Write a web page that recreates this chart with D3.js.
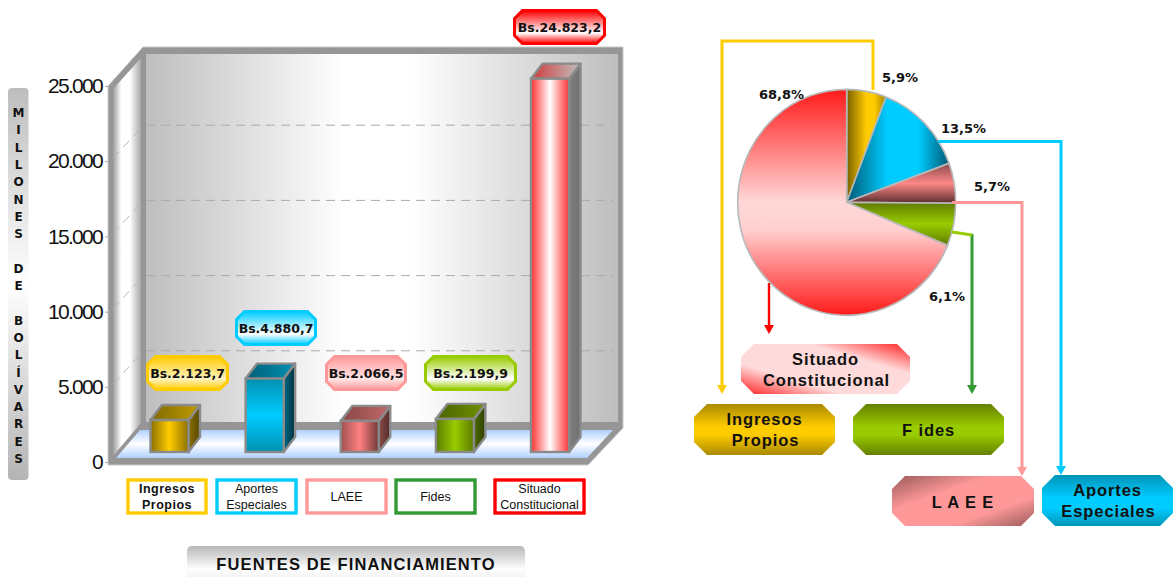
<!DOCTYPE html>
<html><head><meta charset="utf-8">
<script src="https://cdn.jsdelivr.net/npm/d3@7/dist/d3.min.js"></script>
<style>html,body{margin:0;padding:0;background:#fff;overflow:hidden}svg{display:block}</style>
</head><body><svg id="c" width="1173" height="577"></svg>
<script>
const categories = ["Ingresos Propios","Aportes Especiales","LAEE","Fides","Situado Constitucional"];
const values = [2123.7,4880.7,2066.5,2199.9,24823.2];
const yTicks = [0,5000,10000,15000,20000,25000];
const legendLines = [["Ingresos","Propios"],["Aportes","Especiales"],["LAEE"],["Fides"],["Situado","Constitucional"]];
const calloutLines = [["Ingresos","Propios"],["Aportes","Especiales"],["L A E E"],["F ides"],["Situado","Constitucional"]];
const yTitle = ["MILLONES","","DE","","BOLÍVARES"];
const xTitle = "FUENTES DE FINANCIAMIENTO";

const pillColors = ["#ffcc00","#00ccff","#ff9999","#99cc00","#ff0000"];
const legendColors = ["#ffcc00","#00ccff","#ff9999","#339933","#ff0000"];
const frontStops = [["#8a7000","#ffcc00","#8a7000"],["#0090b0","#00ccff","#0090b0"],["#a05050","#ff8080","#703838"],["#5a7a00","#99cc00","#5a7a00"],["#ff3030","#ffffff","#ff3030"]];
const topStops = [["#806800","#c09c00"],["#005f78","#0090b4"],["#8a4545","#c06a6a"],["#4a6400","#6f9000"],["#d03a3a","#c0c0c0"]];
const sideStops = [["#8a7000","#584700"],["#006a85","#00303f"],["#8c4a4a","#552c2c"],["#4e6a00","#2e4000"],["#808080","#707070"]];

const fmtES = d3.formatLocale({decimal:",",thousands:".",grouping:[3],currency:["Bs.",""]});
const tickFmt = fmtES.format(",.0f"), valFmt = fmtES.format(",.1f"), pctFmt = fmtES.format(".1f");

const FONT = "'DejaVu Sans',Verdana,sans-serif", NARROW = "'Liberation Sans',Arial,sans-serif";
const svg = d3.select("#c"), defs = svg.append("defs");
let gid = 0;
function grad(stops, dir, extra){
  const id = "g"+(gid++);
  const g = defs.append("linearGradient").attr("id",id);
  if(dir==="h") g.attr("x1",0).attr("y1",0).attr("x2",1).attr("y2",0);
  else if(dir==="v") g.attr("x1",0).attr("y1",0).attr("x2",0).attr("y2",1);
  else g.attr("x1",dir[0]).attr("y1",dir[1]).attr("x2",dir[2]).attr("y2",dir[3]);
  stops.forEach((s,i)=>{
    const o = Array.isArray(s)? s[0] : i/(stops.length-1);
    const c = Array.isArray(s)? s[1] : s;
    g.append("stop").attr("offset",o).attr("stop-color",c);
  });
  return `url(#${id})`;
}
function octagon(x,y,w,h,c){
  return `M${x+c},${y}H${x+w-c}L${x+w},${y+c}V${y+h-c}L${x+w-c},${y+h}H${x+c}L${x},${y+h-c}V${y+c}Z`;
}

/* scales */
const y = d3.scaleLinear().domain([0,25000]).range([462,86]);
const x = d3.scalePoint().domain(categories).range([169.5,550]);
const depth = {dx:35, dy:-36};
const barBase = 10, barW = 38, bdx = 11.5, bdy = -15;

/* 3D frame */
const fr = svg.append("g");
fr.append("path").attr("d","M108,86L143,47H623V428L588,465H108Z").attr("fill","#969696").attr("stroke","#c8c8c8").attr("stroke-width",1);
fr.append("path").attr("d","M146,54H618V422H146Z").attr("fill",grad(["#bebebe","#ffffff","#ffffff","#bebebe"].map((c,i)=>[[0,.42,.56,1][i],c]),"h"));
fr.append("path").attr("d","M113,89L141,58V423L113,456Z").attr("fill",grad([[0,"#9c9c9c"],[.3,"#ffffff"],[.6,"#ffffff"],[1,"#a8a8a8"]],"h"));
fr.append("path").attr("d","M140,430H613L587,458H116Z").attr("fill",grad([[0,"#b0d0ff"],[.5,"#ffffff"],[1,"#b0d0ff"]],"v"));

/* gridlines on the walls */
const gridTicks = yTicks.filter(t=>t>0 && t<25000);
fr.selectAll("line.back").data(gridTicks).join("line").attr("class","back")
  .attr("x1",146).attr("x2",613).attr("y1",d=>y(d)+depth.dy).attr("y2",d=>y(d)+depth.dy)
  .attr("stroke","#aaaaaa").attr("stroke-width",1).attr("stroke-dasharray","9 6");
fr.selectAll("line.side").data(gridTicks).join("line").attr("class","side")
  .attr("x1",113).attr("x2",141).attr("y1",d=>y(d)-3).attr("y2",d=>y(d)+depth.dy+3)
  .attr("stroke","#b4b4b4").attr("stroke-width",1).attr("stroke-dasharray","9 6");

/* axis */
const ax = svg.append("g").attr("transform","translate(108,0)")
  .call(d3.axisLeft(y).tickValues(yTicks).tickFormat(tickFmt).tickSize(3).tickPadding(3));
ax.select(".domain").remove();
ax.selectAll("line").attr("stroke","#aaaaaa");
ax.selectAll("text").attr("font-family",NARROW).attr("font-size",21).attr("letter-spacing",-1.7).attr("fill","#111").attr("dy","0.32em");

/* 3D bars */
const bars = svg.append("g").selectAll("g").data(values.map((v,i)=>({v,i,c:categories[i]}))).join("g")
  .attr("transform",d=>`translate(${x(d.c)-barW/2},0)`);
const tY = d=>y(d.v)-barBase, bY = y(0)-barBase;
const barStroke = {stroke:"#8a8a8a",w:2.4};
bars.append("path").attr("d",d=>`M${barW},${tY(d)}l${bdx},${bdy}V${bY+bdy}L${barW},${bY}Z`)
  .attr("fill",d=>grad(sideStops[d.i],"h")).attr("stroke",barStroke.stroke).attr("stroke-width",barStroke.w).attr("stroke-linejoin","round");
bars.append("path").attr("d",d=>`M0,${tY(d)}l${bdx},${bdy}h${barW}l${-bdx},${-bdy}Z`)
  .attr("fill",d=>grad(topStops[d.i],"h")).attr("stroke",barStroke.stroke).attr("stroke-width",barStroke.w).attr("stroke-linejoin","round");
bars.append("rect").attr("x",0).attr("width",barW).attr("y",tY).attr("height",d=>bY-tY(d))
  .attr("fill",d=>grad(frontStops[d.i],d.i===1?"v":"h")).attr("stroke",barStroke.stroke).attr("stroke-width",barStroke.w);

/* value pills */
const pillPos = [[146,355,83],[235,310,82],[325,355,82],[424,355,93],[513,9,93]];
const pills = svg.append("g").selectAll("g").data(values).join("g");
pills.append("path").attr("d",(d,i)=>octagon(pillPos[i][0]+1.5,pillPos[i][1]+1.5,pillPos[i][2]-3,33,8))
  .attr("fill",(d,i)=>grad([[0,pillColors[i]],[.68,i===0?"#fff2c0":(i===2?"#ffe6e6":"#ffffff")],[1,pillColors[i]]],"v"))
  .attr("stroke",(d,i)=>pillColors[i]).attr("stroke-width",3);
pills.append("text").attr("x",(d,i)=>pillPos[i][0]+pillPos[i][2]/2).attr("y",(d,i)=>pillPos[i][1]+23)
  .attr("text-anchor","middle").attr("font-family",FONT).attr("font-weight","bold").attr("font-size",12.5)
  .attr("fill","#111").text(d=>"Bs."+valFmt(d));

/* legend boxes under bars */
const legPos = [[126,82],[215,83],[305,83],[394,83],[493,93]];
const leg = svg.append("g").selectAll("g").data(legendLines).join("g");
leg.append("rect").attr("x",(d,i)=>legPos[i][0]+2).attr("y",480).attr("width",(d,i)=>legPos[i][1]-4).attr("height",33)
  .attr("fill","#fff").attr("stroke",(d,i)=>legendColors[i]).attr("stroke-width",3.4);
leg.each(function(lines,i){
  const t = d3.select(this).append("text").attr("text-anchor","middle").attr("font-family",NARROW)
    .attr("font-size",i===0?12.5:12.5).attr("font-weight",i===0?"bold":"normal").attr("fill","#111")
    .attr("letter-spacing",i===0?0.5:0);
  lines.forEach((s,k)=>t.append("tspan").attr("x",legPos[i][0]+legPos[i][1]/2-(i===4?-0:0))
     .attr("y",lines.length===2?493+k*16:501).text(s));
});

/* axis title strip */
svg.append("rect").attr("x",8).attr("y",88).attr("width",20.5).attr("height",392).attr("rx",4)
  .attr("fill",grad([[0,"#bdbdbd"],[.5,"#ffffff"],[1,"#b4b4b4"]],"v"));
const yt = svg.append("text").attr("font-family",FONT).attr("font-weight","bold").attr("font-size",12).attr("fill","#111").attr("text-anchor","middle");
yTitle.join("\u0000").split("").reduce((n,ch)=>{
  if(ch==="\u0000") return n+ (0.5);
  yt.append("tspan").attr("x",18.5).attr("y",117+Math.round(n)*17.3).text(ch);
  return n+1;
},0);

/* x title strip */
svg.append("path").attr("d","M187,577V551a5,5 0 0 1 5,-5H520a5,5 0 0 1 5,5V577Z")
  .attr("fill",grad([[0,"#b8b8b8"],[.75,"#ffffff"],[1,"#f4f4f4"]],"v"));
svg.append("text").attr("x",356).attr("y",569.5).attr("text-anchor","middle").attr("font-family",NARROW)
  .attr("font-weight","bold").attr("font-size",16.5).attr("letter-spacing",1.1).attr("fill","#111").text(xTitle);

/* pie */
const cx=846.7, cy=202.3, R=109, ky=113/109;
const total = d3.sum(values);
const pieData = d3.pie().sort(null).value(d=>d)(values);
const arc = d3.arc().innerRadius(0).outerRadius(R);
const pieStops = [
  [["#7a6000","#ffcc00","#ffcc00","#a08000"].map((c,i)=>[[0,.5,.7,1][i],c]),"h"],
  [[[0,"#005a75"],[.4,"#00ccff"],[.7,"#00ccff"],[1,"#005a75"]],"h"],
  [[[0,"#8a4a4a"],[.5,"#ff8888"],[1,"#5a2c2c"]],"v"],
  [[[0,"#5f7a00"],[.5,"#99cc00"],[1,"#5f7a00"]],"v"],
  [[[0,"#ff1a1a"],[.5,"#ffd8d8"],[.62,"#ffd0d0"],[1,"#ff1a1a"]],"v"]
];
const pieG = svg.append("g").attr("transform",`translate(${cx},${cy}) scale(1,${ky})`);
pieG.selectAll("path").data(pieData).join("path").attr("d",arc)
  .attr("fill",(d,i)=>grad(pieStops[i][0],pieStops[i][1]))
  .attr("stroke","#b8b8b8").attr("stroke-width",1.6);

const pctPos = [[900,82],[963.5,133],[992,191],[947,301],[781.5,99]];
svg.append("g").selectAll("text").data(values).join("text")
  .attr("x",(d,i)=>pctPos[i][0]).attr("y",(d,i)=>pctPos[i][1]).attr("text-anchor","middle")
  .attr("font-family",FONT).attr("font-weight","bold").attr("font-size",13).attr("fill","#111")
  .text(d=>pctFmt(d/total*100)+"%");

/* connectors */
const conn = [
  {c:"#ffcc00",w:3,p:[[873,90],[873,41],[722,41],[722,386]],tip:[722,394]},
  {c:"#00ccff",w:3,p:[[938,141.5],[1061,141.5],[1061,467]],tip:[1061,475]},
  {c:"#ff9999",w:3,p:[[952,202.5],[1022,202.5],[1022,468]],tip:[1022,476]},
  {c:"#339933",w:3,p:[[972,234],[972,386]],tip:[972,394]},
  {c:"#ff0000",w:2.4,p:[[769,283],[769,326]],tip:[769,334]}
];
const line = d3.line();
const cg = svg.append("g");
cg.selectAll("path.l").data(conn).join("path").attr("class","l").attr("d",d=>line(d.p)).attr("fill","none")
  .attr("stroke",d=>d.c).attr("stroke-width",d=>d.w);
cg.selectAll("path.h").data(conn).join("path").attr("class","h")
  .attr("d",d=>`M${d.tip[0]-5},${d.tip[1]-9}H${d.tip[0]+5}L${d.tip[0]},${d.tip[1]}Z`).attr("fill",d=>d.c);
cg.append("path").attr("d","M952,232L972,235").attr("stroke","#99cc00").attr("stroke-width",3).attr("fill","none");

/* callouts */
const boxPos = [[694,404,141,51],[1042,475,131,51],[892,476,142,50],[853,404,151,51],[741,344,169,50]];
const boxFill = [
  grad([[0,"#a98a00"],[.45,"#ffcc00"],[.6,"#ffcc00"],[1,"#a98a00"]],"v"),
  grad([[0,"#0094b8"],[.45,"#00ccff"],[.65,"#00ccff"],[1,"#0094b8"]],"v"),
  grad([[0,"#9a5a5a"],[.35,"#ff9999"],[.7,"#ff9999"],[1,"#9a5a5a"]],[0,0,1,1]),
  grad([[0,"#668000"],[.45,"#99cc00"],[.6,"#99cc00"],[1,"#668000"]],"v"),
  grad([[0,"#ff2020"],[.3,"#ffdada"],[.7,"#ffdada"],[1,"#ff2020"]],[1,0,0,1])
];
const bx = svg.append("g").selectAll("g").data(calloutLines).join("g");
bx.append("path").attr("d",(d,i)=>octagon(...boxPos[i],13)).attr("fill",(d,i)=>boxFill[i]);
bx.each(function(lines,i){
  const b = boxPos[i], t = d3.select(this).append("text").attr("text-anchor","middle")
    .attr("font-family",NARROW).attr("font-weight","bold").attr("font-size",16.5).attr("letter-spacing",0.9).attr("fill","#111");
  lines.forEach((s,k)=>t.append("tspan").attr("x",b[0]+b[2]/2+(k?1:0)).attr("y",lines.length===2?b[1]+21+k*21:b[1]+32).text(s));
});
</script></body></html>
